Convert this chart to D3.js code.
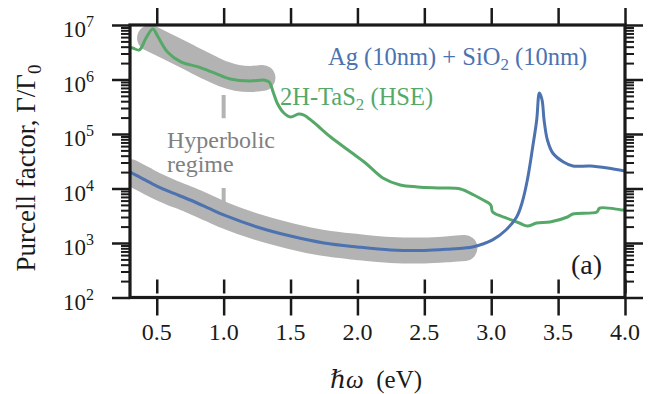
<!DOCTYPE html>
<html>
<head>
<meta charset="utf-8">
<script src="https://cdn.jsdelivr.net/npm/d3@7"></script>
<style>
  body { margin: 0; background: #fff; }
</style>
</head>
<body>
<svg id="chart" width="655" height="394" font-family="'Liberation Serif', 'Times New Roman', Times, 'DejaVu Serif', serif"></svg>
<script>
// photon energy (eV) and Purcell factor for Ag (10nm) + SiO2 (10nm)
const agEnergy = [0.30, 0.40, 0.50, 0.60, 0.75, 0.90, 1.00, 1.25, 1.50, 1.75, 2.00, 2.25, 2.50, 2.70, 2.80, 2.86,
  3.01, 3.11, 3.19, 3.23, 3.27, 3.31, 3.34, 3.36, 3.38, 3.395, 3.42, 3.46, 3.54, 3.61, 3.74, 3.87, 4.00];
const agPurcell = [20100, 14900, 11100, 8630, 6150, 4210, 3270, 1970, 1340, 1000, 845, 745, 728, 776, 810, 845,
  1140, 1730, 3000, 5420, 14300, 57700, 181000, 565000, 421000, 181000, 77600, 44800, 30600, 25900, 25900, 23800, 20900];

// 2H-TaS2 (HSE)
const tasEnergy = [0.30, 0.32, 0.37, 0.42, 0.47, 0.51, 0.58, 0.68, 0.81, 0.93, 1.05, 1.20, 1.30, 1.34, 1.37, 1.40,
  1.45, 1.50, 1.56, 1.60, 1.67, 1.80, 1.95, 2.06, 2.19, 2.32, 2.45, 2.62, 2.77, 2.87, 2.94, 2.99, 3.00, 3.01,
  3.05, 3.11, 3.21, 3.27, 3.34, 3.44, 3.57, 3.61, 3.79, 3.81, 3.98, 4.00];
const tasPurcell = [3.94e6, 3.79e6, 3.48e6, 5.77e6, 8.45e6, 6.03e6, 3.20e6, 2.10e6, 1.70e6, 1.32e6, 1.02e6, 9.38e5,
  9.79e5, 9.0e5, 5.9e5, 3.71e5, 2.43e5, 2.05e5, 2.33e5, 2.23e5, 1.66e5, 8.8e4, 4.68e4, 2.94e4, 1.56e4, 1.16e4,
  1.07e4, 1.02e4, 9.8e3, 7.6e3, 6.15e3, 5.2e3, 4.78e3, 3.71e3, 3.27e3, 2.88e3, 2.33e3, 2.05e3, 2.33e3, 2.43e3,
  3.0e3, 3.41e3, 3.71e3, 4.38e3, 4.03e3, 4.03e3];

// hyperbolic-regime highlight along the TaS2 curve
const bandEnergy = [0.45, 0.60, 0.75, 0.90, 1.00, 1.10, 1.20, 1.29];
const bandPurcell = [5.77e6, 3.79e6, 2.48e6, 1.62e6, 1.26e6, 1.07e6, 1.02e6, 1.07e6];
const agBandEnd = 2.8;

// dashed marker at 1.0 eV (two pieces around the label)
const regimeMarks = [[5.2e5, 1.95e5], [1.02e4, 3.7e3]];
const regimeEnergy = 1.0;

const xTicks = [0.5, 1.0, 1.5, 2.0, 2.5, 3.0, 3.5, 4.0];
const yTicks = [2, 3, 4, 5, 6, 7];

const blue = '#4c72b0', green = '#55a868', band = '#b3b3b3', ink = '#1a1a1a';

const svg = d3.select('#chart');
const pl = 130, pr = 625, pt = 25, pb = 297.5;
const x = d3.scaleLinear().domain([0.3, 4.0]).range([pl, pr]);
const y = d3.scaleLog().domain([1e2, 1e7]).range([pb, pt]);

svg.append('defs').append('clipPath').attr('id', 'plot')
  .append('rect').attr('x', pl).attr('y', pt).attr('width', pr - pl).attr('height', pb - pt);

const ag = agEnergy.map((e, i) => ({e: e, p: agPurcell[i]}));
const tas = tasEnergy.map((e, i) => ({e: e, p: tasPurcell[i]}));
const bandPts = bandEnergy.map((e, i) => ({e: e, p: bandPurcell[i]}));

const line = d3.line().x(d => x(d.e)).y(d => y(d.p)).curve(d3.curveCatmullRom.alpha(0.5));
const plot = svg.append('g').attr('clip-path', 'url(#plot)');

// gray bands
plot.append('path').datum(bandPts).attr('d', line)
  .attr('fill', 'none').attr('stroke', band).attr('stroke-width', 26)
  .attr('stroke-linecap', 'round').attr('stroke-linejoin', 'round');
plot.append('path').datum(ag.filter(d => d.e <= agBandEnd)).attr('d', line)
  .attr('fill', 'none').attr('stroke', band).attr('stroke-width', 26)
  .attr('stroke-linecap', 'round').attr('stroke-linejoin', 'round');

plot.selectAll('line.mark').data(regimeMarks).enter().append('line')
  .attr('class', 'mark')
  .attr('x1', x(regimeEnergy)).attr('x2', x(regimeEnergy))
  .attr('y1', d => y(d[0])).attr('y2', d => y(d[1]))
  .attr('stroke', band).attr('stroke-width', 4);

plot.append('path').datum(tas).attr('d', line)
  .attr('fill', 'none').attr('stroke', green).attr('stroke-width', 3);
plot.append('path').datum(ag).attr('d', line)
  .attr('fill', 'none').attr('stroke', blue).attr('stroke-width', 3);

// axes
const minors = [];
for (let k = 2; k < 7; k++) for (let m = 2; m <= 9; m++) minors.push(m * Math.pow(10, k));
const majors = yTicks.map(k => Math.pow(10, k));

function styleAxis(g, w) {
  g.select('.domain').remove();
  g.selectAll('.tick line').attr('stroke', ink).attr('stroke-width', w);
  g.selectAll('.tick text').remove();
}
svg.append('g').attr('transform', `translate(${pl},0)`)
  .call(d3.axisLeft(y).tickValues(majors).tickSize(18)).call(g => styleAxis(g, 2.5));
svg.append('g').attr('transform', `translate(${pl},0)`)
  .call(d3.axisLeft(y).tickValues(minors).tickSize(9)).call(g => styleAxis(g, 2));
svg.append('g').attr('transform', `translate(${pr},0)`)
  .call(d3.axisRight(y).tickValues(majors).tickSize(18)).call(g => styleAxis(g, 2.5));
svg.append('g').attr('transform', `translate(${pr},0)`)
  .call(d3.axisRight(y).tickValues(minors).tickSize(9)).call(g => styleAxis(g, 2));
svg.append('g').attr('transform', `translate(0,${pt})`)
  .call(d3.axisTop(x).tickValues(xTicks).tickSize(17)).call(g => styleAxis(g, 2.5));
svg.append('g').attr('transform', `translate(0,${pb})`)
  .call(d3.axisBottom(x).tickValues(xTicks).tickSize(18)).call(g => styleAxis(g, 2.5));
svg.append('g').attr('transform', `translate(0,${pb - 4})`)
  .call(d3.axisTop(x).tickValues(xTicks).tickSize(14)).call(g => styleAxis(g, 2.5));

svg.append('rect').attr('x', pl).attr('y', pt).attr('width', pr - pl).attr('height', pb - pt)
  .attr('fill', 'none').attr('stroke', ink).attr('stroke-width', 3.2);

// tick labels
svg.append('g').selectAll('text').data(xTicks).enter().append('text')
  .attr('x', d => x(d)).attr('y', 340).attr('text-anchor', 'middle')
  .attr('font-size', 24).attr('fill', ink).text(d => d.toFixed(1));

const yl = svg.append('g').selectAll('text').data(yTicks).enter().append('text')
  .attr('x', 94).attr('y', d => y(Math.pow(10, d)) + 12).attr('text-anchor', 'end')
  .attr('font-size', 23).attr('fill', ink);
yl.append('tspan').text('10');
yl.append('tspan').attr('dy', -10).attr('font-size', 16).text(d => d);

// axis titles
const xt = svg.append('text').attr('x', 376).attr('y', 388).attr('text-anchor', 'middle')
  .attr('font-size', 25).attr('fill', ink);
xt.append('tspan').attr('font-style', 'italic').text('\u210F\u03C9');
xt.append('tspan').text('\u2002(eV)');

const yt = svg.append('text').attr('transform', `translate(35,168) rotate(-90)`)
  .attr('text-anchor', 'middle').attr('font-size', 27).attr('fill', ink);
yt.append('tspan').text('Purcell factor, \u0393/\u0393');
yt.append('tspan').attr('dy', 6).attr('font-size', 19).text('0');

// annotations
const agLabel = svg.append('text').attr('x', 328).attr('y', 65).attr('font-size', 24.5).attr('fill', blue);
agLabel.append('tspan').text('Ag (10nm) + SiO');
agLabel.append('tspan').attr('dy', 5).attr('font-size', 17).text('2');
agLabel.append('tspan').attr('dy', -5).text(' (10nm)');

const tasLabel = svg.append('text').attr('x', 280).attr('y', 105).attr('font-size', 24.5).attr('fill', green);
tasLabel.append('tspan').text('2H-TaS');
tasLabel.append('tspan').attr('dy', 5).attr('font-size', 17).text('2');
tasLabel.append('tspan').attr('dy', -5).text(' (HSE)');

svg.append('text').attr('x', 167).attr('y', 148).attr('font-size', 24).attr('fill', '#808080').text('Hyperbolic');
svg.append('text').attr('x', 167).attr('y', 172).attr('font-size', 24).attr('fill', '#808080').text('regime');

svg.append('text').attr('x', 571).attr('y', 274).attr('font-size', 28).attr('fill', ink).text('(a)');
</script>
</body>
</html>
